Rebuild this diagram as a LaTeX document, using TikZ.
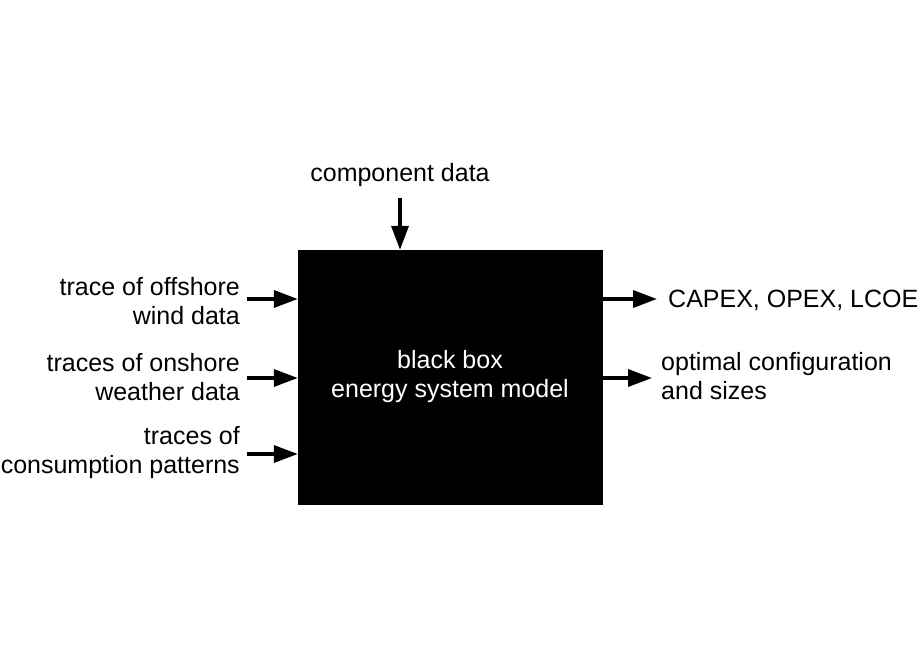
\documentclass[tikz,border=0pt]{standalone}
\usepackage{fontspec}
\setmainfont{Liberation Sans}
\usetikzlibrary{positioning,arrows.meta,calc}

\begin{document}
\begin{tikzpicture}[
  x=1pt, y=-1pt,
  font=\fontsize{25}{29}\selectfont,
  >={Triangle[length=24pt,width=17pt]},
  model/.style={draw=black, fill=black, text=white, align=center,
                minimum width=304pt, minimum height=254pt, inner sep=0pt},
  inlbl/.style={align=right, anchor=east, inner sep=0pt},
  outlbl/.style={align=left, anchor=west, inner sep=0pt},
  flow/.style={->, line width=3.5pt}]
\useasboundingbox (0,0) rectangle (920,660);

% ---------- model ----------
\node[model] (box) at (450,377) {black box\\energy system model};

% ---------- inputs ----------
\node[inner sep=0pt] (comp) at (400,175) {component data};
\node[inlbl] (wind) at (240,301) {trace of offshore\\wind data};
\node[inlbl] (weather) at (240,377) {traces of onshore\\weather data};
\node[inlbl] (cons) at (240,453) {traces of\\consumption patterns};

% ---------- outputs ----------
\node[outlbl] (cost) at (668,300) {CAPEX, OPEX, LCOE};
\node[outlbl] (conf) at (661,376) {optimal configuration\\and sizes};

% ---------- edges ----------
\coordinate (compS) at (400,198);
\draw[flow] (compS) -- (compS |- box.north);
\draw[flow] ([xshift=7pt]wind.east |- 0,299) -- (box.west |- 0,299);
\draw[flow] ([xshift=7pt]weather.east |- 0,378) -- (box.west |- 0,378);
\draw[flow] ([xshift=7pt]cons.east |- 0,454) -- (box.west |- 0,454);
\draw[flow] (box.east |- 0,299) -- ([xshift=-11pt]cost.west |- 0,299);
\draw[flow] (box.east |- 0,378) -- ([xshift=-9pt]conf.west |- 0,378);
\end{tikzpicture}
\end{document}
